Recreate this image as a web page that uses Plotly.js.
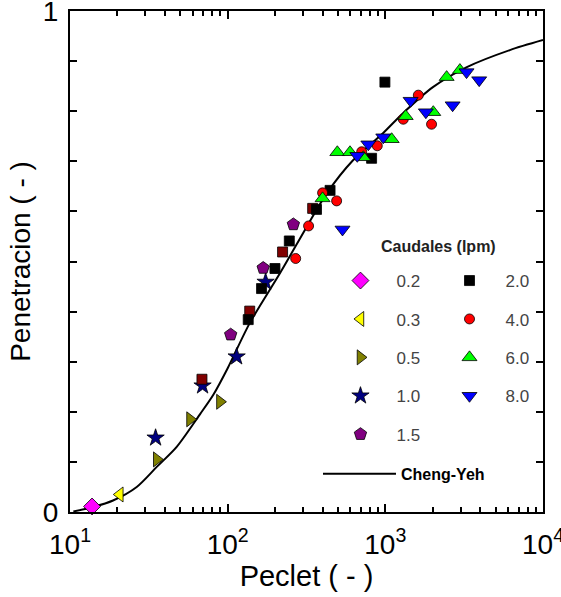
<!DOCTYPE html>
<html>
<head>
<meta charset="utf-8">
<script src="https://cdn.plot.ly/plotly-3.0.1.min.js"></script>
<style>html,body{margin:0;padding:0;background:#fff;}#chart{width:561px;height:597px;}</style>
</head>
<body>
<div id="chart"></div>
<script>
// Caudal 0.2 lpm
const pe02 = [13.8];
const p02 = [0.011];
// Caudal 0.3 lpm
const pe03 = [20.7];
const p03 = [0.035];
// Caudal 0.5 lpm
const pe05 = [35.5, 57.7, 89.3];
const p05 = [0.105, 0.185, 0.220];
// Caudal 1.0 lpm
const pe10 = [34.9, 69.3, 114, 174];
const p10 = [0.148, 0.252, 0.310, 0.459];
// Caudal 1.5 lpm
const pe15 = [104.5, 168, 261];
const p15 = [0.354, 0.487, 0.574];
// Caudal 2.0 lpm (black squares)
const pe20 = [135, 164, 199.5, 246, 366, 446, 818, 994];
const p20 = [0.384, 0.446, 0.486, 0.541, 0.604, 0.642, 0.706, 0.858];
// extra dark-red squares
const pe20b = [68.7, 138, 223, 346];
const p20b = [0.265, 0.401, 0.519, 0.606];
// Caudal 4.0 lpm
const pe40 = [270, 326, 400, 491, 708, 889, 1300, 1619, 1964];
const p40 = [0.506, 0.571, 0.637, 0.621, 0.719, 0.731, 0.784, 0.832, 0.774];
// Caudal 6.0 lpm
const pe60 = [400, 496, 597, 725, 1097, 1346, 2014, 2448, 2972];
const p60 = [0.626, 0.718, 0.718, 0.708, 0.744, 0.790, 0.798, 0.868, 0.882];
// Caudal 8.0 lpm
const pe80 = [535, 664, 780, 970, 1446, 1807, 2672, 3274, 3938];
const p80 = [0.564, 0.711, 0.734, 0.748, 0.821, 0.798, 0.812, 0.878, 0.862];
// Cheng-Yeh curve
const peCY = [10.5, 14.0, 18.75, 26.5, 35.5, 47.5, 66.7, 81.1, 100, 138, 215, 317, 425, 624, 966, 1294, 2004, 3289, 6166, 10000];
const pCY  = [0.001, 0.010, 0.023, 0.050, 0.090, 0.130, 0.195, 0.234, 0.287, 0.377, 0.477, 0.569, 0.636, 0.702, 0.756, 0.796, 0.848, 0.888, 0.922, 0.942];

// tick labels
const xTickVals = [10, 100, 1000, 10000];
const xTickText = ['10<sup>1</sup>', '10<sup>2</sup>', '10<sup>3</sup>', '10<sup>4</sup>'];
const xMinorVals = [20, 30, 40, 50, 60, 70, 80, 90, 200, 300, 400, 500, 600, 700, 800, 900, 2000, 3000, 4000, 5000, 6000, 7000, 8000, 9000];
const yTickVals = [0, 1];
const yTickText = ['0', '1'];

const FONT = 'Arial, "Liberation Sans", sans-serif';
const OUT = {color: '#000', width: 0.8};

function pts(name, x, y, symbol, color, size, legend, group, show) {
  return {
    type: 'scatter', mode: 'markers', name: name, x: x, y: y,
    marker: {symbol: symbol, color: color, size: size, line: OUT},
    legend: legend, legendgroup: group, showlegend: show !== false,
    cliponaxis: false
  };
}

const traces = [
  {type: 'scatter', mode: 'lines', name: '<b>Cheng-Yeh</b>', x: peCY, y: pCY,
   line: {color: '#000', width: 2, shape: 'spline', smoothing: 0.8}, legend: 'legend3', legendgroup: 'cy'},
  pts('0.2', pe02, p02, 'diamond', '#ff00ff', 13, 'legend', 'a1'),
  pts('0.3', pe03, p03, 'triangle-left', '#ffff00', 13, 'legend', 'a2'),
  pts('0.5', pe05, p05, 'triangle-right', '#808000', 13, 'legend', 'a3'),
  pts('1.0', pe10, p10, 'star', '#000080', 13, 'legend', 'a4'),
  pts('1.5', pe15, p15, 'pentagon', '#800080', 13, 'legend', 'a5'),
  pts('2.0b', pe20b, p20b, 'square', '#800000', 10, 'legend2', 'bx', false),
  pts('2.0', pe20, p20, 'square', '#000000', 10, 'legend2', 'b1'),
  pts('4.0', pe40, p40, 'circle', '#ff0000', 10, 'legend2', 'b2'),
  pts('6.0', pe60, p60, 'triangle-up', '#00ff00', 13, 'legend2', 'b3'),
  pts('8.0', pe80, p80, 'triangle-down', '#0000ff', 13, 'legend2', 'b4')
];

const legFont = {family: FONT, size: 17, color: '#444'};
const layout = {
  width: 561, height: 597,
  margin: {l: 70, r: 18, t: 11, b: 85},
  paper_bgcolor: '#fff', plot_bgcolor: '#fff',
  font: {family: FONT, color: '#000'},
  xaxis: {
    type: 'log', range: [1, 4], tickmode: 'array', tickvals: xTickVals, ticktext: xTickText,
    ticks: 'inside', ticklen: 8, tickwidth: 2, tickcolor: '#000',
    minor: {tickmode: 'array', tickvals: xMinorVals, ticks: 'inside', ticklen: 5, tickwidth: 2, tickcolor: '#000', showgrid: false},
    showline: true, linewidth: 2, linecolor: '#000', mirror: 'allticks',
    showgrid: false, zeroline: false,
    tickfont: {family: FONT, size: 28, color: '#000'},
    ticklabelstandoff: 6, ticklabeloverflow: 'allow',
    title: {text: 'Peclet ( - )', font: {family: FONT, size: 29, color: '#000'}, standoff: 2}
  },
  yaxis: {
    range: [0, 1], tickmode: 'array', tickvals: yTickVals, ticktext: yTickText,
    ticks: 'inside', ticklen: 7, tickwidth: 2, tickcolor: '#000',
    minor: {dtick: 0.1, ticks: 'inside', ticklen: 7, tickwidth: 2, tickcolor: '#000', showgrid: false},
    showline: true, linewidth: 2, linecolor: '#000', mirror: 'allticks',
    showgrid: false, zeroline: false,
    tickfont: {family: FONT, size: 28, color: '#000'},
    ticklabelstandoff: 4, ticklabeloverflow: 'allow',
    title: {text: 'Penetracion ( - )', font: {family: FONT, size: 28, color: '#000'}, standoff: 4}
  },
  legend: {
    x: 0.538, y: 0.497, xanchor: 'left', yanchor: 'top',
    bgcolor: 'rgba(0,0,0,0)', borderwidth: 0, font: legFont,
    tracegroupgap: 13.3, itemwidth: 62, traceorder: 'grouped'
  },
  legend2: {
    x: 0.7685, y: 0.497, xanchor: 'left', yanchor: 'top',
    bgcolor: 'rgba(0,0,0,0)', borderwidth: 0, font: legFont,
    tracegroupgap: 13.3, itemwidth: 62, traceorder: 'grouped'
  },
  legend3: {
    x: 0.5243, y: 0.110, xanchor: 'left', yanchor: 'top',
    bgcolor: 'rgba(0,0,0,0)', borderwidth: 0,
    font: {family: FONT, size: 16, color: '#000'}, itemwidth: 73
  },
  annotations: [{
    xref: 'paper', yref: 'paper', x: 0.780, y: 0.529, xanchor: 'center', yanchor: 'middle',
    text: '<b>Caudales (lpm)</b>', showarrow: false,
    font: {family: FONT, size: 16, color: '#222'}
  }]
};

Plotly.newPlot('chart', traces, layout, {staticPlot: true, displayModeBar: false});
</script>
</body>
</html>
